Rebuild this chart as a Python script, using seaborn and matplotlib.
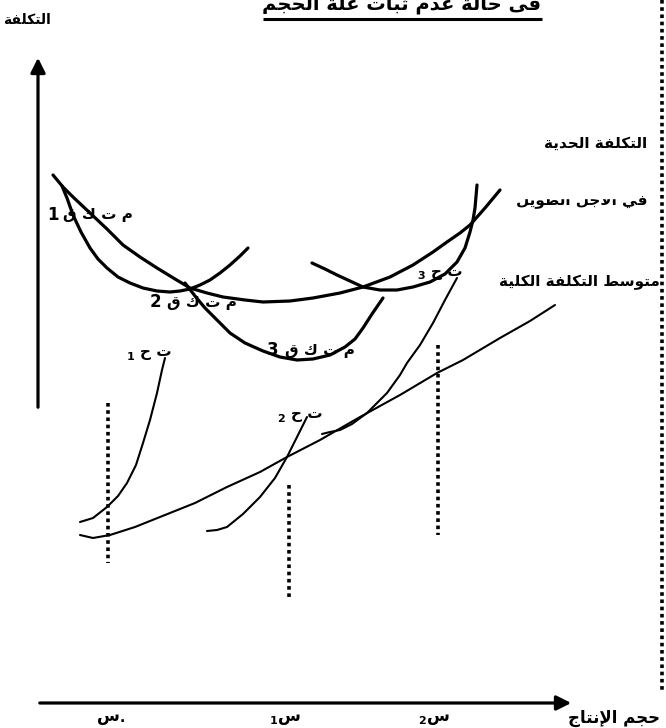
import numpy as np
import pandas as pd
import seaborn as sns
import matplotlib.pyplot as plt
from matplotlib.patches import Rectangle

# Curves (pixel-like units, y grows downward)
lrac_x = [53, 63, 73, 90, 107, 123, 140, 157, 175, 190, 207, 223, 245, 263, 290, 313, 340, 363, 390, 413, 433, 447, 460, 470, 485, 500]
lrac_y = [175, 187, 197, 213, 229, 245, 257, 268, 279, 288, 293, 297, 300, 302, 301, 298, 293, 287, 277, 265, 252, 242, 233, 225, 208, 190]

sac1_x = [62, 67, 73, 81, 90, 98, 107, 118, 130, 143, 157, 170, 180, 190, 200, 210, 220, 230, 240, 248]
sac1_y = [186, 198, 215, 232, 248, 259, 268, 277, 283, 288, 291, 292, 291, 289, 285, 280, 273, 265, 256, 248]

sac2_x = [185, 195, 205, 217, 230, 245, 263, 280, 297, 313, 330, 345, 355, 363, 372, 383]
sac2_y = [283, 296, 308, 320, 333, 343, 351, 357, 360, 359, 355, 347, 339, 328, 314, 298]

sac3_x = [312, 325, 337, 350, 363, 380, 397, 413, 430, 445, 457, 465, 470, 473, 475, 477]
sac3_y = [263, 269, 275, 281, 287, 290, 290, 287, 282, 274, 262, 248, 232, 220, 208, 185]

atc_x = [80, 93, 110, 135, 160, 195, 227, 260, 287, 320, 360, 400, 437, 463, 500, 530, 555]
atc_y = [535, 538, 535, 527, 517, 503, 487, 472, 457, 440, 417, 395, 373, 360, 338, 321, 305]

mc1_x = [80, 93, 107, 118, 127, 136, 143, 150, 157, 162, 165]
mc1_y = [522, 518, 507, 496, 483, 465, 443, 420, 393, 370, 358]

mc2_x = [207, 217, 227, 243, 260, 275, 287, 297, 307]
mc2_y = [531, 530, 527, 514, 497, 478, 457, 437, 417]

mc3_x = [322, 330, 340, 352, 367, 387, 400, 407, 420, 433, 445, 457]
mc3_y = [434, 432, 430, 424, 413, 393, 375, 363, 345, 323, 300, 278]

# output levels (dotted guides): x, top, bottom
guide_x = [108, 289, 438]
guide_top = [403, 485, 345]
guide_bottom = [563, 600, 535]
guide_labels = ['س', 'س', 'س']
guide_subs = ['.', '1', '2']

title = 'فى حالة عدم ثبات غلة الحجم'
y_label = 'التكلفة'
x_label = 'حجم الإنتاج'
mc_label = 'التكلفة الحدية'
lr_label = 'في الأجل الطويل'
atc_label = 'متوسط التكلفة الكلية'

# minimal arabic shaping (matplotlib has no bidi / joining)
FORMS = {
    'ا': (0xFE8D, 0xFE8E, None, None), 'أ': (0xFE83, 0xFE84, None, None),
    'إ': (0xFE87, 0xFE88, None, None), 'ب': (0xFE8F, 0xFE90, 0xFE91, 0xFE92),
    'ة': (0xFE93, 0xFE94, None, None), 'ت': (0xFE95, 0xFE96, 0xFE97, 0xFE98),
    'ث': (0xFE99, 0xFE9A, 0xFE9B, 0xFE9C), 'ج': (0xFE9D, 0xFE9E, 0xFE9F, 0xFEA0),
    'ح': (0xFEA1, 0xFEA2, 0xFEA3, 0xFEA4), 'د': (0xFEA9, 0xFEAA, None, None),
    'س': (0xFEB1, 0xFEB2, 0xFEB3, 0xFEB4), 'ط': (0xFEC1, 0xFEC2, 0xFEC3, 0xFEC4),
    'ع': (0xFEC9, 0xFECA, 0xFECB, 0xFECC), 'غ': (0xFECD, 0xFECE, 0xFECF, 0xFED0),
    'ف': (0xFED1, 0xFED2, 0xFED3, 0xFED4), 'ق': (0xFED5, 0xFED6, 0xFED7, 0xFED8),
    'ك': (0xFED9, 0xFEDA, 0xFEDB, 0xFEDC), 'ل': (0xFEDD, 0xFEDE, 0xFEDF, 0xFEE0),
    'م': (0xFEE1, 0xFEE2, 0xFEE3, 0xFEE4), 'ن': (0xFEE5, 0xFEE6, 0xFEE7, 0xFEE8),
    'و': (0xFEED, 0xFEEE, None, None), 'ى': (0xFEEF, 0xFEF0, None, None),
    'ي': (0xFEF1, 0xFEF2, 0xFEF3, 0xFEF4),
}
LAM_ALEF = {'ا': (0xFEFB, 0xFEFC), 'أ': (0xFEF7, 0xFEF8), 'إ': (0xFEF9, 0xFEFA)}


def ar(s):
    out = []
    prev_joins = False
    i = 0
    while i < len(s):
        c = s[i]
        if c not in FORMS:
            out.append(c)
            prev_joins = False
            i += 1
            continue
        nxt = s[i + 1] if i + 1 < len(s) else ''
        if c == 'ل' and nxt in LAM_ALEF:
            iso, fin = LAM_ALEF[nxt]
            out.append(chr(fin if prev_joins else iso))
            prev_joins = False
            i += 2
            continue
        f = FORMS[c]
        joins_next = f[2] is not None and nxt in FORMS
        if prev_joins and joins_next:
            g = f[3]
        elif prev_joins:
            g = f[1]
        elif joins_next:
            g = f[2]
        else:
            g = f[0]
        out.append(chr(g))
        prev_joins = joins_next
        i += 1
    return ''.join(reversed(out))


sns.set_theme(style='white')
plt.rcParams['font.family'] = ['DejaVu Sans']
plt.rcParams['font.weight'] = 'bold'
plt.rcParams['text.color'] = 'black'

fig = plt.figure(figsize=(6.66, 7.28), dpi=100)
ax = fig.add_axes([0, 0, 1, 1])

thick = 2.3
thin = 1.5
for xs, ys, lw in [(lrac_x, lrac_y, thick), (sac1_x, sac1_y, thick), (sac2_x, sac2_y, thick),
                   (sac3_x, sac3_y, thick), (atc_x, atc_y, thin), (mc1_x, mc1_y, thin),
                   (mc2_x, mc2_y, thin), (mc3_x, mc3_y, thin)]:
    df = pd.DataFrame({'x': xs, 'y': ys})
    sns.lineplot(data=df, x='x', y='y', sort=False, estimator=None, color='black',
                 linewidth=lw, ax=ax, solid_joinstyle='round')
ax.set_xlim(0, 666)
ax.set_ylim(728, 0)
ax.axis('off')

# dotted guides
for gx, gt, gb in zip(guide_x, guide_top, guide_bottom):
    ax.plot([gx, gx], [gt, gb], color='black', lw=2.6, linestyle=(0, (1, 1)), dash_capstyle='butt')
# dotted frame on the right
ax.plot([662, 662], [0, 690], color='black', lw=2.6, linestyle=(0, (1, 1)), dash_capstyle='butt')

# axes arrows
ax.annotate('', xy=(38, 55), xytext=(38, 410),
            arrowprops=dict(arrowstyle='-|>', lw=2.3, color='black', mutation_scale=22))
ax.annotate('', xy=(574, 703), xytext=(37, 703),
            arrowprops=dict(arrowstyle='-|>', lw=2.3, color='black', mutation_scale=22))

# texts
t = ax.text(402, 10, ar(title), ha='center', va='baseline', fontsize=14, fontweight='bold')
ax.text(51, 20, ar(y_label), ha='right', va='center', fontsize=10, fontweight='bold')
ax.text(647, 143, ar(mc_label), ha='right', va='center', fontsize=11, fontweight='bold')
ax.text(647, 200, ar(lr_label), ha='right', va='center', fontsize=11, fontweight='bold')
ax.add_patch(Rectangle((505, 180), 124, 18, color='white', zorder=5))
ax.text(660, 282, ar(atc_label), ha='right', va='center', fontsize=11, fontweight='bold')
ax.text(660, 718, ar(x_label), ha='right', va='center', fontsize=12, fontweight='bold')

for i, (gx, lab, sub) in enumerate(zip(guide_x, guide_labels, guide_subs)):
    ax.text(gx, 716, lab, ha='center', va='center', fontsize=12, fontweight='bold')
    if i == 0:
        ax.text(gx + 12, 718, sub, ha='left', va='center', fontsize=10, fontweight='bold')
    else:
        ax.text(gx - 12, 721, sub, ha='right', va='center', fontsize=8, fontweight='bold')

# short run average cost labels
for i, (xl, xr, yc) in enumerate([(47, 133, 215), (150, 237, 302), (267, 355, 350)]):
    ax.text(xl, yc, str(i + 1), ha='left', va='center', fontsize=12, fontweight='bold')
    ax.text(xr, yc, 'ق ك ت م', ha='right', va='center', fontsize=11, fontweight='bold')

# marginal cost labels
for i, (xl, xr, yc) in enumerate([(127, 172, 353), (277, 323, 415), (417, 463, 272)]):
    ax.text(xl, yc + 4, str(i + 1), ha='left', va='center', fontsize=8, fontweight='bold')
    ax.text(xr, yc, 'ح ت', ha='right', va='center', fontsize=11, fontweight='bold')

fig.canvas.draw()
bb = t.get_window_extent().transformed(ax.transData.inverted())
ax.plot([bb.x0, bb.x1], [19, 19], color='black', lw=2.2, solid_capstyle='butt')

fig.savefig('out.png', dpi=100, facecolor='white')
